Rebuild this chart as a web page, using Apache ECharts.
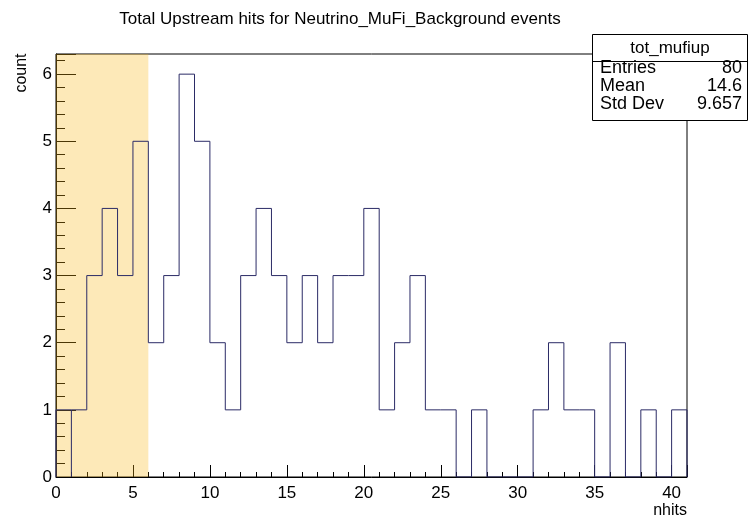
<!DOCTYPE html>
<html><head><meta charset="utf-8">
<script src="https://cdn.jsdelivr.net/npm/echarts@6/dist/echarts.min.js"></script>
<style>html,body{margin:0;padding:0;background:#fff}#c{width:749px;height:519px}</style>
</head><body><div id="c"></div>
<script>
// ---- data ----
const binEdgesStart = 0;
const binWidth = 1;
const counts = [1,1,3,4,3,5,2,3,6,5, 2,1,3,4,3,2,3,2,3,3, 4,1,2,3,1,1,0,1,0,0, 0,1,2,1,1,0,2,0,1,0, 1];
const extraEdges = [1];            // extra vertical edge visible in the reference
const highlightRange = [0, 6];     // shaded region on x
const xRange = [0, 41];
const yRange = [0, 6.3];
const title = 'Total Upstream hits for Neutrino_MuFi_Background events';
const statsName = 'tot_mufiup';
const statsLabels = ['Entries', 'Mean', 'Std Dev'];
const statsValues = ['80', '14.6', '9.657'];
const xTitle = 'nhits';
const yTitle = 'count';

// ---- build step outline from bins ----
const outline = [[binEdgesStart, 0]];
counts.forEach((v, i) => {
  const x0 = binEdgesStart + i * binWidth;
  outline.push([x0, v]);
  outline.push([x0 + binWidth, v]);
});
outline.push([binEdgesStart + counts.length * binWidth, 0]);
const edgeSeries = extraEdges.map(e => {
  const idx = Math.round((e - binEdgesStart) / binWidth);
  return { type: 'line', data: [[e, 0], [e, counts[idx]]], symbol: 'none', silent: true,
           lineStyle: { color: '#2b2b66', width: 1 }, z: 3, animation: false };
});

const FONT = '"Liberation Sans", Arial, Helvetica, sans-serif';
const chart = echarts.init(document.getElementById('c'), null, { renderer: 'canvas' });

const statRowY = [68, 86, 104];
const statsGraphics = [
  { type: 'rect', shape: { x: 592.5, y: 34.5, width: 155, height: 86 }, style: { fill: '#fff', stroke: '#000', lineWidth: 1 }, z: 100 },
  { type: 'line', shape: { x1: 592.5, y1: 61.5, x2: 747.5, y2: 61.5 }, style: { stroke: '#000', lineWidth: 1 }, z: 101 },
  { type: 'text', x: 670, y: 48, style: { text: statsName, font: '17px ' + FONT, fill: '#000', align: 'center', verticalAlign: 'middle' }, z: 101 }
];
statsLabels.forEach((l, i) => {
  statsGraphics.push({ type: 'text', x: 600, y: statRowY[i], style: { text: l, font: '18px ' + FONT, fill: '#000', align: 'left', verticalAlign: 'middle' }, z: 101 });
  statsGraphics.push({ type: 'text', x: 742, y: statRowY[i], style: { text: statsValues[i], font: '18px ' + FONT, fill: '#000', align: 'right', verticalAlign: 'middle' }, z: 101 });
});

chart.setOption({
  animation: false,
  backgroundColor: '#fff',
  grid: { left: 56, right: 62, top: 54, bottom: 42, show: true, borderColor: '#000', borderWidth: 1, backgroundColor: 'transparent' },
  xAxis: {
    type: 'value', min: xRange[0], max: xRange[1], interval: 5,
    axisLine: { show: true, onZero: false, lineStyle: { color: '#000', width: 1 } },
    axisTick: { show: true, inside: true, length: 12, lineStyle: { color: '#000' } },
    minorTick: { show: true, splitNumber: 5, length: 5, lineStyle: { color: '#000' } },
    splitLine: { show: false }, minorSplitLine: { show: false },
    axisLabel: { show: true, color: '#000', fontSize: 17, fontFamily: FONT, margin: 8, showMaxLabel: false }
  },
  yAxis: {
    type: 'value', min: yRange[0], max: yRange[1], interval: 1,
    axisLine: { show: true, onZero: false, lineStyle: { color: '#000', width: 1 } },
    axisTick: { show: true, inside: true, length: 20, lineStyle: { color: '#000' } },
    minorTick: { show: true, splitNumber: 5, length: 9, lineStyle: { color: '#000' } },
    splitLine: { show: false }, minorSplitLine: { show: false },
    axisLabel: { show: true, color: '#000', fontSize: 17, fontFamily: FONT, margin: 4, showMaxLabel: false }
  },
  series: [
    { type: 'line', data: outline, symbol: 'none', silent: true, z: 3,
      lineStyle: { color: '#2b2b66', width: 1 } },
    ...edgeSeries,
    { type: 'line', data: [], silent: true, z: 20, zlevel: 0,
      markArea: { silent: true, itemStyle: { color: 'rgba(250,182,20,0.30)', borderWidth: 0 },
        data: [[{ xAxis: highlightRange[0], yAxis: yRange[0] }, { xAxis: highlightRange[1], yAxis: yRange[1] }]] } }
  ],
  graphic: [
    { type: 'text', x: 340, y: 19, style: { text: title, font: '17px ' + FONT, fill: '#000', align: 'center', verticalAlign: 'middle' }, z: 100 },
    { type: 'text', x: 22, y: 73, rotation: Math.PI / 2, style: { text: yTitle, font: '16px ' + FONT, fill: '#000', align: 'center', verticalAlign: 'middle' }, z: 100 },
    { type: 'text', x: 687, y: 511, style: { text: xTitle, font: '16px ' + FONT, fill: '#000', align: 'right', verticalAlign: 'middle' }, z: 100 },
    ...statsGraphics
  ]
});
</script></body></html>
